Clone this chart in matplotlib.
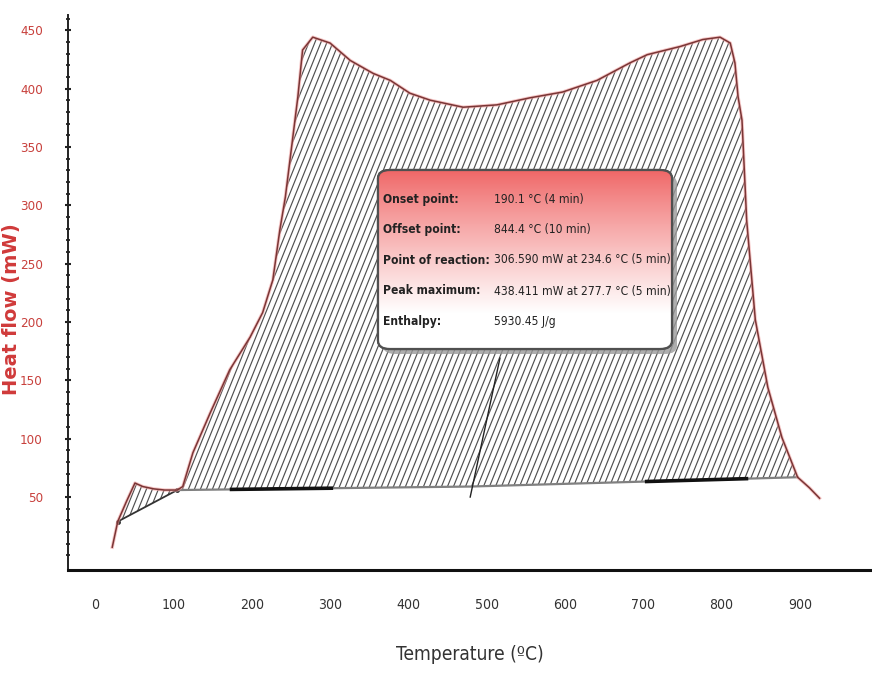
import numpy as np
import matplotlib
matplotlib.use("Agg")
import matplotlib.pyplot as plt
from matplotlib.patches import FancyBboxPatch
from matplotlib.collections import LineCollection
from matplotlib import font_manager as fm_

# ---------------- data ----------------
temperature = [22, 29, 40, 51, 61, 75, 89, 105, 112, 125, 147, 172, 198, 214, 227,
               236, 243, 251, 259, 265, 278, 300, 326, 355, 377, 402, 428, 470, 513,
               555, 597, 641, 683, 705, 747, 776, 798, 811, 817, 821, 826, 832, 843,
               859, 877, 897, 912, 925]
heat_flow = [7, 29, 46, 62, 59, 57, 56, 56, 59, 88, 122, 159, 187, 208, 236,
             279, 307, 350, 393, 433, 444, 439, 424, 413, 407, 396, 390, 384, 386,
             392, 397, 407, 422, 429, 436, 442, 444, 439, 422, 393, 373, 287, 202,
             144, 101, 67, 58, 49]

small_base_T = [29, 105]
small_base_mW = [29, 56]
main_base_T = [105, 479, 897]
main_base_mW = [56, 59, 67]
thick_segments_T = [(172, 304), (702, 834)]
reaction_T = [479, 517]
reaction_mW = [50, 169]

xticks = [0, 100, 200, 300, 400, 500, 600, 700, 800, 900]
yticks = [50, 100, 150, 200, 250, 300, 350, 400, 450]

box_labels = ["Onset point:", "Offset point:", "Point of reaction:", "Peak maximum:", "Enthalpy:"]
box_values = ["190.1 °C (4 min)", "844.4 °C (10 min)", "306.590 mW at 234.6 °C (5 min)",
              "438.411 mW at 277.7 °C (5 min)", "5930.45 J/g"]

# pick a narrow font if one is installed
names = {f.name for f in fm_.fontManager.ttflist}
stretches = {(f.name, f.stretch) for f in fm_.fontManager.ttflist}
NARROW_STRETCH = "normal"
if "Liberation Sans Narrow" in names:
    NARROW = ["Liberation Sans Narrow", "DejaVu Sans"]
    NSCALE = 1.0
elif any(n == "DejaVu Sans" and s == "condensed" for n, s in stretches):
    NARROW = ["DejaVu Sans"]
    NARROW_STRETCH = "condensed"
    NSCALE = 0.92
elif "Roboto Condensed" in names:
    NARROW = ["Roboto Condensed", "DejaVu Sans"]
    NSCALE = 1.0
else:
    NARROW = ["Liberation Sans", "DejaVu Sans"]
    NSCALE = 0.88
RED = "#c8403c"

# ---------------- figure ----------------
W, H = 872, 675
fig = plt.figure(figsize=(W / 100, H / 100), dpi=100)
ax_l, ax_r, ax_t, ax_b = 68, 872, 15, 570
ax = fig.add_axes([ax_l / W, 1 - ax_b / H, (ax_r - ax_l) / W, (ax_b - ax_t) / H])
axw_px, axh_px = ax_r - ax_l, ax_b - ax_t

T = np.array(temperature, float)
Q = np.array(heat_flow, float)

XL = (-34.5, 992)
YL = (-12.5, 463)
ax.set_xlim(*XL)
ax.set_ylim(*YL)


def hatch(path_coll, angle_deg=68, spacing_px=6.0, color="#505050", lw=0.85):
    path = path_coll.get_paths()[0]
    ang = np.deg2rad(angle_deg)
    dx = np.cos(ang) / np.sin(ang) * axh_px
    segs = []
    x0 = -dx
    while x0 < axw_px + 10:
        segs.append([(x0 / axw_px, 0.0), ((x0 + dx) / axw_px, 1.0)])
        x0 += spacing_px
    lc = LineCollection(segs, colors=color, linewidths=lw, transform=ax.transAxes, zorder=2)
    lc.set_clip_path(path, ax.transData)
    ax.add_collection(lc)


ms = (T >= small_base_T[0]) & (T <= small_base_T[1])
base_s = np.interp(T[ms], small_base_T, small_base_mW)
fs = ax.fill_between(T[ms], Q[ms], base_s, facecolor="white", edgecolor="none", zorder=1)
hatch(fs)

mm = (T >= main_base_T[0]) & (T <= main_base_T[-1])
base_m = np.interp(T[mm], main_base_T, main_base_mW)
fmain = ax.fill_between(T[mm], Q[mm], base_m, facecolor="white", edgecolor="none", zorder=1)
hatch(fmain)

ax.plot(small_base_T, small_base_mW, color="#333333", lw=1.3, marker="o", ms=2.5, zorder=3)
ax.plot(main_base_T, main_base_mW, color="#808080", lw=1.6, zorder=3)
for a, b in thick_segments_T:
    xs = [a, b]
    ax.plot(xs, np.interp(xs, main_base_T, main_base_mW), color="#111111", lw=2.6,
            solid_capstyle="butt", zorder=3)
ax.plot(reaction_T, reaction_mW, color="#222222", lw=1.0, zorder=3)

ax.plot(T, Q, color="#f0a0a0", lw=2.4, alpha=0.6, zorder=3)
ax.plot(T, Q, color="#7a3535", lw=1.1, zorder=4)

# ---------------- info box ----------------
bx0, bx1, by0, by1 = 378, 672, 170, 349
fx0, fx1 = (bx0 - ax_l) / axw_px, (bx1 - ax_l) / axw_px
fy0, fy1 = (ax_b - by1) / axh_px, (ax_b - by0) / axh_px
style = "round,pad=0,rounding_size=0.015"
shadow = FancyBboxPatch((fx0 + 5 / axw_px, fy0 - 5 / axh_px), fx1 - fx0, fy1 - fy0,
                        boxstyle=style, transform=ax.transAxes, facecolor="#9a9a9a",
                        edgecolor="none", alpha=0.8, zorder=5)
ax.add_patch(shadow)
box = FancyBboxPatch((fx0, fy0), fx1 - fx0, fy1 - fy0, boxstyle=style,
                     transform=ax.transAxes, facecolor="white", edgecolor="#505050",
                     lw=1.6, zorder=6)
ax.add_patch(box)
grad_t = np.linspace(0, 1, 256)[:, None]
top_c = np.array([0.94, 0.40, 0.40])
wt = np.clip(grad_t / 0.8, 0, 1) ** 0.9
img = top_c[None, None, :] * (1 - wt[..., None]) + np.ones(3)[None, None, :] * wt[..., None]
img = np.repeat(img, 4, axis=1)
im = ax.imshow(img, extent=[fx0, fx1, fy0, fy1], transform=ax.transAxes,
               aspect="auto", origin="upper", zorder=6.5, interpolation="bilinear")
im.set_clip_path(box)
border = FancyBboxPatch((fx0, fy0), fx1 - fx0, fy1 - fy0, boxstyle=style,
                        transform=ax.transAxes, facecolor="none", edgecolor="#505050",
                        lw=1.6, zorder=7)
ax.add_patch(border)

rows_px = [200, 230, 260, 291, 322]
lx = (383 - ax_l) / axw_px
vx = (494 - ax_l) / axw_px
box_fs = 9.4 * NSCALE
for lab, val, ypx in zip(box_labels, box_values, rows_px):
    fy = (ax_b - ypx) / axh_px
    ax.text(lx, fy, lab, transform=ax.transAxes, fontsize=box_fs, fontweight="bold",
            family=NARROW, stretch=NARROW_STRETCH, color="#222222", va="center",
            ha="left", zorder=8)
    ax.text(vx, fy, val, transform=ax.transAxes, fontsize=box_fs,
            family=NARROW, stretch=NARROW_STRETCH, color="#222222", va="center",
            ha="left", zorder=8)

ax.set_xlim(*XL)
ax.set_ylim(*YL)

# ---------------- axes styling ----------------
for s in ["top", "right"]:
    ax.spines[s].set_visible(False)
ax.spines["left"].set_linewidth(1.4)
ax.spines["left"].set_color("#222222")
ax.spines["bottom"].set_linewidth(2.2)
ax.spines["bottom"].set_color("#111111")

ax.set_xticks(xticks)
ax.set_xticklabels([str(v) for v in xticks])
ax.set_yticks(yticks)
ax.set_yticklabels([str(v) for v in yticks])
ax.set_yticks(np.arange(0, 461, 10), minor=True)
ax.tick_params(axis="x", length=0, pad=20, labelsize=11 * NSCALE, labelcolor="#333333")
ax.tick_params(axis="y", which="major", length=4, width=1.5, direction="inout",
               pad=16, labelsize=10.5 * NSCALE, labelcolor=RED, color="#222222")
ax.tick_params(axis="y", which="minor", length=3, width=1.4, direction="inout",
               color="#333333")
for lbl in ax.get_xticklabels() + ax.get_yticklabels():
    lbl.set_family(NARROW)
    lbl.set_stretch(NARROW_STRETCH)

ax.set_xlabel("Temperature (ºC)", fontsize=15 * NSCALE, family=NARROW,
              stretch=NARROW_STRETCH, color="#333333")
ax.xaxis.set_label_coords((470 - ax_l) / axw_px, (ax_b - 655) / axh_px)
ax.xaxis.label.set_va("center")
ax.set_ylabel("Heat flow (mW)", fontsize=14, fontweight="bold", color="#d03a3a",
              family=["DejaVu Sans"])
ax.yaxis.set_label_coords((12 - ax_l) / axw_px, (ax_b - 309) / axh_px)
ax.yaxis.label.set_va("center")

fig.savefig("out.png", dpi=100)
